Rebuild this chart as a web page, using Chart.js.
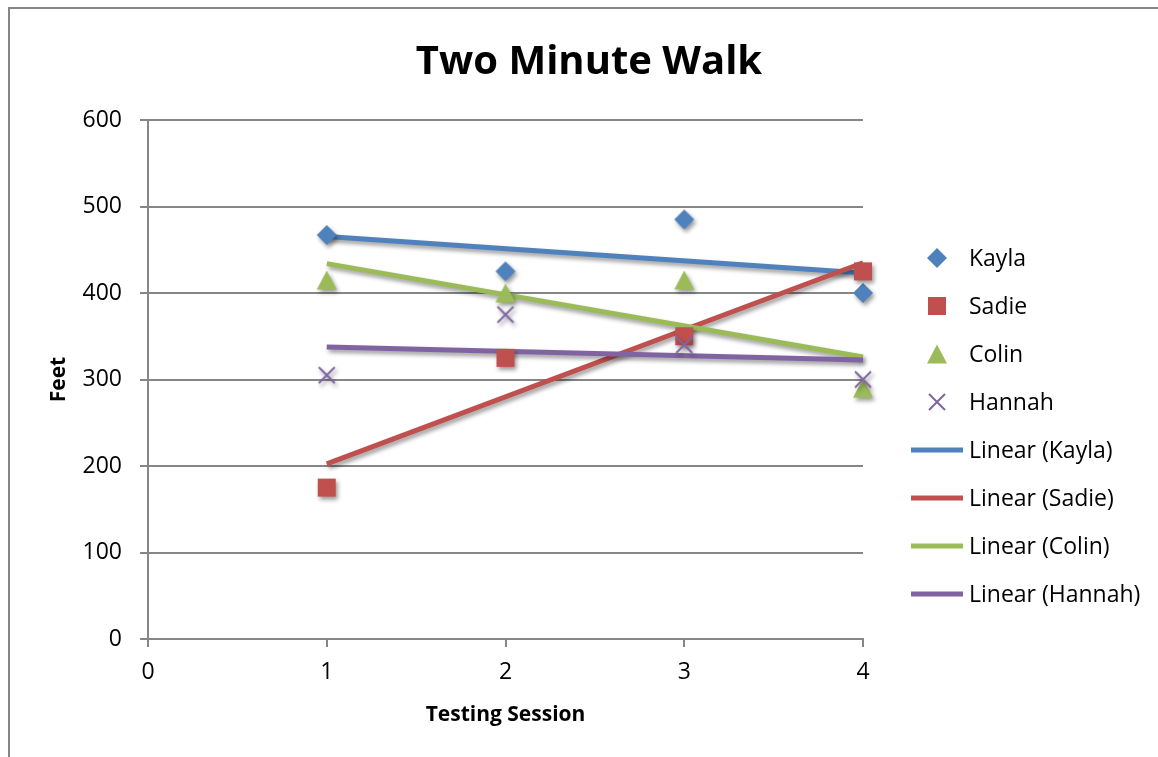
<!DOCTYPE html>
<html>
<head>
<meta charset="utf-8">
<title>Two Minute Walk</title>
<script src="https://cdn.jsdelivr.net/npm/chart.js@4.4.1/dist/chart.umd.min.js"></script>
<style>
    body { margin: 0; background: #fff; }
    #grafico { display: block; }
</style>
</head>
<body>
<canvas id="grafico" width="1158" height="757"></canvas>
<script>
// datos
const sessions = [1, 2, 3, 4];
const kayla = [467, 425, 485, 400];
const sadie = [175, 325, 350, 425];
const colin = [415, 400, 415, 290];
const hannah = [305, 375, 340, 300];
const names = ['Kayla', 'Sadie', 'Colin', 'Hannah'];
const xTicks = [0, 1, 2, 3, 4];
const yTicks = [0, 100, 200, 300, 400, 500, 600];

const colors = ['#4F81BD', '#C0504D', '#9BBB59', '#8064A2'];
const shapes = ['diamond', 'square', 'triangle', 'cross'];
const FONT = "'Open Sans', 'DejaVu Sans', sans-serif";
const GRID = '#868686';


// marcadores tipo Excel
function makeMarker(kind, color) {
    const c = document.createElement('canvas');
    c.width = 22;
    c.height = 22;
    const g = c.getContext('2d');
    g.fillStyle = color;
    g.strokeStyle = color;
    g.beginPath();
    if (kind === 'diamond') {
        g.moveTo(11, 1); g.lineTo(21, 11); g.lineTo(11, 21); g.lineTo(1, 11);
        g.closePath(); g.fill();
    } else if (kind === 'square') {
        g.rect(2, 2, 18, 18); g.fill();
    } else if (kind === 'triangle') {
        g.moveTo(11, 1.5); g.lineTo(21, 20.5); g.lineTo(1, 20.5);
        g.closePath(); g.fill();
    } else {
        g.lineWidth = 2;
        g.moveTo(3, 3); g.lineTo(19, 19);
        g.moveTo(19, 3); g.lineTo(3, 19);
        g.stroke();
    }
    return c;
}

// tendencia lineal (minimos cuadrados), igual que Excel
function linearTrend(xs, ys) {
    const n = xs.length;
    const mx = xs.reduce((a, b) => a + b, 0) / n;
    const my = ys.reduce((a, b) => a + b, 0) / n;
    let sxy = 0, sxx = 0;
    for (let i = 0; i < n; i++) {
        sxy += (xs[i] - mx) * (ys[i] - my);
        sxx += (xs[i] - mx) * (xs[i] - mx);
    }
    const m = sxy / sxx;
    const b = my - m * mx;
    const x0 = Math.min(...xs), x1 = Math.max(...xs);
    return [{ x: x0, y: m * x0 + b }, { x: x1, y: m * x1 + b }];
}

const series = [kayla, sadie, colin, hannah];
const markers = shapes.map((s, i) => makeMarker(s, colors[i]));

const datasets = [];
series.forEach((vals, i) => {
    datasets.push({
        label: names[i],
        data: sessions.map((x, j) => ({ x: x, y: vals[j] })),
        pointStyle: markers[i],
        pointRadius: 11,
        showLine: false,
        clip: false,
        order: 3 - i
    });
});
series.forEach((vals, i) => {
    datasets.push({
        type: 'line',
        label: 'Linear (' + names[i] + ')',
        data: linearTrend(sessions, vals),
        borderColor: colors[i],
        borderWidth: 5,
        pointRadius: 0,
        fill: false,
        clip: false,
        order: 7 - i
    });
});


// sombra para series y lineas
const shadowPlugin = {
    id: 'shadow',
    beforeDatasetsDraw(chart) {
        const ctx = chart.ctx;
        ctx.save();
        ctx.shadowColor = 'rgba(0,0,0,0.4)';
        ctx.shadowBlur = 4;
        ctx.shadowOffsetX = 2;
        ctx.shadowOffsetY = 3;
    },
    afterDatasetsDraw(chart) {
        chart.ctx.restore();
    }
};

// marco, titulo y leyenda
const decorPlugin = {
    id: 'decor',
    beforeDraw(chart) {
        const ctx = chart.ctx;
        ctx.save();
        ctx.fillStyle = '#fff';
        ctx.fillRect(0, 0, chart.width, chart.height);
        ctx.strokeStyle = GRID;
        ctx.lineWidth = 2;
        ctx.beginPath();
        ctx.moveTo(9, chart.height + 2);
        ctx.lineTo(9, 8);
        ctx.lineTo(chart.width + 2, 8);
        ctx.stroke();
        ctx.restore();
    },
    afterDraw(chart) {
        const ctx = chart.ctx;
        ctx.save();
        ctx.fillStyle = '#000';
        ctx.font = 'bold 40px ' + FONT;
        ctx.textAlign = 'center';
        ctx.textBaseline = 'alphabetic';
        ctx.fillText('Two Minute Walk', 589, 74);

        ctx.font = '23px ' + FONT;
        ctx.textAlign = 'left';
        ctx.textBaseline = 'middle';
        chart.data.datasets.forEach((ds, i) => {
            const y = 258 + 48 * i;
            if (ds.type === 'line') {
                ctx.strokeStyle = ds.borderColor;
                ctx.lineWidth = 5;
                ctx.beginPath();
                ctx.moveTo(911, y);
                ctx.lineTo(963, y);
                ctx.stroke();
            } else {
                const m = ds.pointStyle;
                ctx.drawImage(m, 937 - m.width / 2, y - m.height / 2);
            }
            ctx.fillStyle = '#000';
            ctx.fillText(ds.label, 969, y + 1);
        });
        ctx.restore();
    }
};


var ctx = document.getElementById('grafico');
var myChart = new Chart(ctx, {
    type: 'scatter',
    data: { datasets: datasets },
    plugins: [decorPlugin, shadowPlugin],
    options: {
        responsive: false,
        animation: false,
        layout: { padding: { left: 0, top: 120, right: 295, bottom: 0 } },
        plugins: {
            legend: { display: false },
            title: { display: false },
            tooltip: { enabled: false }
        },
        scales: {
            x: {
                type: 'linear',
                min: xTicks[0],
                max: xTicks[xTicks.length - 1],
                afterBuildTicks: s => { s.ticks = xTicks.map(v => ({ value: v })); },
                afterFit: s => { s.height = 118; },
                ticks: { color: '#000', font: { family: FONT, size: 23 }, padding: 12 },
                grid: { drawOnChartArea: false, drawTicks: true, tickLength: 8, color: GRID, lineWidth: 2 },
                border: { display: true, color: GRID, width: 2 },
                title: {
                    display: true,
                    text: 'Testing Session',
                    color: '#000',
                    font: { family: FONT, size: 21, weight: 'bold' },
                    padding: { top: 0, bottom: 29 }
                }
            },
            y: {
                type: 'linear',
                min: yTicks[0],
                max: yTicks[yTicks.length - 1],
                afterBuildTicks: s => { s.ticks = yTicks.map(v => ({ value: v })); },
                afterFit: s => { s.width = 148; },
                ticks: { color: '#000', font: { family: FONT, size: 23 }, padding: 18 },
                grid: { color: GRID, lineWidth: 2, tickLength: 8 },
                border: { display: true, color: GRID, width: 2 },
                title: {
                    display: true,
                    text: 'Feet',
                    color: '#000',
                    font: { family: FONT, size: 21, weight: 'bold' },
                    padding: { top: 46, bottom: 0 }
                }
            }
        }
    }
});
</script>
</body>
</html>
